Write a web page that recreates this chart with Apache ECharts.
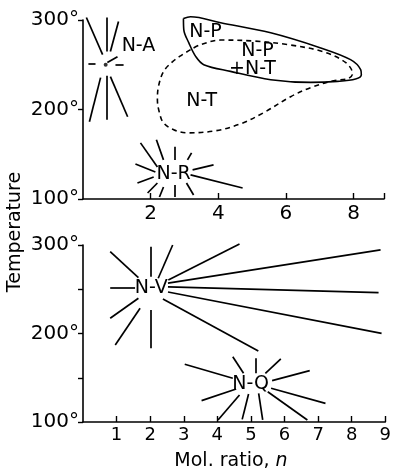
<!DOCTYPE html>
<html>
<head>
<meta charset="utf-8">
<style>
  html, body { margin: 0; padding: 0; background: #fff; }
  #chart { width: 394px; height: 475px; }
</style>
<script src="https://cdn.jsdelivr.net/npm/echarts@6/dist/echarts.min.js"></script>
</head>
<body>
<div id="chart"></div>
<script>
// ---- Upper panel: phase fields (mol. ratio n vs. temperature) ----
// N-A: rays around the point near n≈0.7, 250°
const naRays = [
  [0.10, 302.8, 0.58, 261.3],
  [0.70, 302.8, 0.70, 264.7],
  [1.05, 298.3, 0.81, 264.7],
  [0.52, 235.6, 0.19, 186.3],
  [0.70, 237.8, 0.70, 188.5],
  [0.81, 236.7, 1.32, 191.9],
  [0.16, 251.2, 0.37, 251.2],
  [0.96, 250.0, 1.20, 250.0],
  [0.72, 252.4, 1.02, 259.0]
];
const naPoint = [[0.67, 250]];

// N-P field (solid closed boundary)
const npBoundary = [
  [2.97, 301.7], [3.18, 303.6], [4.07, 296.9], [5.55, 285.7], [7.03, 268.8],
  [7.91, 255.7], [8.21, 244.5], [8.23, 238.9], [8.06, 234.1], [7.52, 231.4],
  [6.73, 230.3], [5.55, 233.3], [4.36, 242.6], [3.57, 250.1], [3.33, 259.4],
  [3.13, 274.4], [2.98, 289.3], [2.97, 301.7]
];

// N-T field (dashed closed boundary)
const ntBoundary = [
  [3.18, 266.9], [2.94, 261.3], [2.65, 253.5], [2.38, 242.3], [2.23, 225.5],
  [2.20, 210.9], [2.26, 196.4], [2.38, 185.1], [2.68, 177.3], [3.09, 173.9],
  [3.92, 176.2], [4.66, 184.0], [5.34, 196.4], [6.14, 214.3], [6.73, 224.4],
  [7.41, 232.2], [7.83, 234.4], [7.97, 240.0], [7.77, 252.4], [7.09, 264.7],
  [6.05, 272.5], [5.04, 276.5], [4.07, 277.6], [3.48, 272.5], [3.18, 266.9]
];

// N-R: rays around n≈2.7, 128°
const nrRays = [
  [1.70, 162.7, 2.20, 135.8],
  [2.17, 166.1, 2.38, 143.7],
  [2.71, 158.3, 2.71, 143.7],
  [3.21, 151.5, 3.09, 143.7],
  [1.55, 139.2, 2.14, 130.2],
  [1.61, 117.9, 2.09, 124.6],
  [1.91, 106.7, 2.20, 117.9],
  [2.26, 102.2, 2.38, 113.4],
  [2.71, 102.2, 2.71, 115.7],
  [3.27, 104.5, 3.06, 117.9],
  [3.86, 138.1, 3.24, 132.5],
  [4.72, 112.3, 3.18, 126.9]
];

const topLabels = [
  [1.64, 271.4, 'N-A'],
  [3.62, 286.0, 'N-P'],
  [5.16, 265.8, 'N-P'],
  [5.01, 245.6, '+N-T'],
  [3.51, 209.8, 'N-T'],
  [2.68, 128.0, 'N-R']
];

// ---- Lower panel ----
// N-V: rays around n≈2, 250°
const nvRays = [
  [0.81, 292.4, 1.65, 263.1],
  [2.02, 298.1, 2.02, 264.2],
  [2.67, 300.0, 2.24, 262.4],
  [0.81, 251.8, 1.55, 251.8],
  [0.81, 217.2, 1.65, 239.8],
  [0.96, 187.0, 1.70, 228.5],
  [2.02, 226.6, 2.02, 183.3],
  [2.54, 260.5, 4.66, 301.1],
  [2.53, 257.0, 8.86, 294.4],
  [2.53, 252.6, 8.80, 246.1],
  [2.53, 246.9, 8.89, 200.2],
  [2.38, 239.0, 5.22, 180.2]
];

// N-Q: rays around n≈5, 142°
const nqRays = [
  [3.03, 165.2, 4.46, 149.4],
  [4.46, 173.8, 4.78, 155.0],
  [5.13, 172.0, 5.13, 155.0],
  [5.89, 171.2, 5.43, 155.0],
  [6.75, 158.0, 5.63, 146.7],
  [7.22, 121.1, 5.60, 138.1],
  [6.68, 102.3, 5.50, 134.2],
  [5.35, 102.3, 5.23, 132.4],
  [4.74, 103.0, 4.93, 131.6],
  [4.02, 102.3, 4.66, 130.5],
  [3.53, 124.1, 4.56, 137.3]
];

const bottomLabels = [
  [2.03, 251.0, 'N-V'],
  [4.99, 142.4, 'N-Q']
];

// Axis settings
const topXTicks = { min: 0, max: 8.9, interval: 2 };
const bottomXTicks = { min: 0, max: 9, interval: 1 };
const topYTicks = { min: 100, max: 300, interval: 100 };
const bottomYTicks = { min: 100, max: 300, interval: 50 };
const yLabelValues = [100, 200, 300];

const FONT = 'DejaVu Sans';
const INK = '#000';

function raySeries(rays, idx) {
  return {
    type: 'lines',
    coordinateSystem: 'cartesian2d',
    xAxisIndex: idx, yAxisIndex: idx,
    silent: true,
    clip: false,
    lineStyle: { color: INK, width: 1.7, opacity: 1, curveness: 0 },
    data: rays.map(r => ({ coords: [[r[0], r[1]], [r[2], r[3]]] }))
  };
}

function labelSeries(labels, idx) {
  return {
    type: 'scatter',
    xAxisIndex: idx, yAxisIndex: idx,
    silent: true,
    symbolSize: 0,
    itemStyle: { color: INK, opacity: 1 },
    label: {
      show: true, position: 'inside',
      fontFamily: FONT, fontSize: 19, color: INK, opacity: 1,
      textBorderWidth: 0
    },
    data: labels.map(l => ({ value: [l[0], l[1]], label: { formatter: l[2] } }))
  };
}

function xAxisOf(ticks, idx, fontSize, margin) {
  return {
    type: 'value', gridIndex: idx,
    min: ticks.min, max: ticks.max, interval: ticks.interval,
    axisLine: { show: true, onZero: false, lineStyle: { color: INK, width: 1.6 } },
    axisTick: { show: true, inside: true, length: 6, lineStyle: { color: INK, width: 1.4 } },
    axisLabel: {
      showMinLabel: false,
      fontFamily: FONT, fontSize: fontSize, color: INK, margin: margin,
      formatter: v => (Number.isInteger(v) && v > 0) ? String(v) : ''
    },
    splitLine: { show: false }
  };
}

function yAxisOf(ticks, idx) {
  return {
    type: 'value', gridIndex: idx,
    min: ticks.min, max: ticks.max, interval: ticks.interval,
    axisLine: { show: true, lineStyle: { color: INK, width: 1.6 } },
    axisTick: { show: true, length: 5, lineStyle: { color: INK, width: 1.4 } },
    axisLabel: {
      fontFamily: FONT, fontSize: 20, color: INK, margin: 4,
      formatter: v => yLabelValues.includes(v) ? v + '°' : ''
    },
    splitLine: { show: false }
  };
}

const chart = echarts.init(document.getElementById('chart'), null, { renderer: 'canvas' });

chart.setOption({
  backgroundColor: '#fff',
  animation: false,
  grid: [
    { left: 83, top: 20, width: 301, height: 179 },
    { left: 83, top: 245, width: 304, height: 177 }
  ],
  xAxis: [
    xAxisOf(topXTicks, 0, 20, 5),
    xAxisOf(bottomXTicks, 1, 18, 4)
  ],
  yAxis: [
    yAxisOf(topYTicks, 0),
    yAxisOf(bottomYTicks, 1)
  ],
  graphic: [
    {
      type: 'text',
      x: 231, y: 461,
      style: {
        text: '{a|Mol. ratio, }{b|n}',
        rich: {
          a: { fontFamily: FONT, fontSize: 19, fill: INK },
          b: { fontFamily: FONT, fontSize: 19, fontStyle: 'italic', fill: INK }
        },
        align: 'center', verticalAlign: 'middle'
      }
    },
    {
      type: 'text',
      x: 15, y: 232,
      rotation: Math.PI / 2,
      style: {
        text: 'Temperature',
        fontFamily: FONT, fontSize: 19, fill: INK,
        align: 'center', verticalAlign: 'middle'
      }
    }
  ],
  series: [
    raySeries(naRays, 0),
    {
      type: 'scatter', xAxisIndex: 0, yAxisIndex: 0, silent: true,
      symbolSize: 4, itemStyle: { color: INK }, data: naPoint
    },
    {
      type: 'line', xAxisIndex: 0, yAxisIndex: 0, silent: true,
      clip: false,
      smooth: 0.35, showSymbol: false,
      lineStyle: { color: INK, width: 1.6 },
      data: npBoundary
    },
    {
      type: 'line', xAxisIndex: 0, yAxisIndex: 0, silent: true,
      clip: false,
      smooth: 0.35, showSymbol: false,
      lineStyle: { color: INK, width: 1.6, type: [5, 4] },
      data: ntBoundary
    },
    raySeries(nrRays, 0),
    labelSeries(topLabels, 0),
    raySeries(nvRays, 1),
    raySeries(nqRays, 1),
    labelSeries(bottomLabels, 1)
  ]
});
</script>
</body>
</html>
